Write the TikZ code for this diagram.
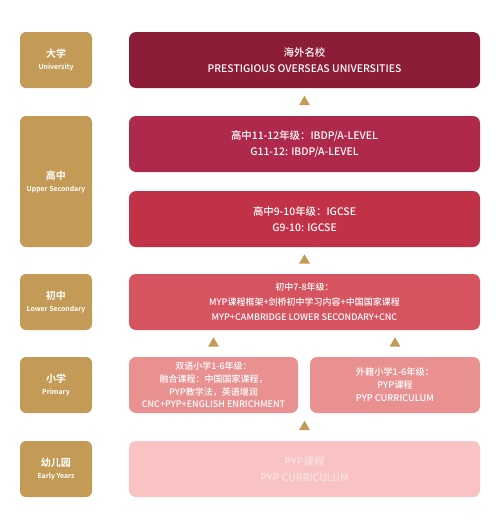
\documentclass[tikz,border=0pt]{standalone}
\usepackage{fontspec}
\newfontfamily\cjk{Noto Sans CJK SC Medium}[BoldFont={Noto Sans CJK SC Bold}]
\usetikzlibrary{calc,shapes.geometric}
\definecolor{gold}{HTML}{C39B56}
\definecolor{uniRed}{HTML}{8C1D36}
\definecolor{hiRed}{HTML}{AF2A4A}
\definecolor{midRed}{HTML}{C13148}
\definecolor{lowRed}{HTML}{D6545F}
\definecolor{priPink}{HTML}{E99090}
\definecolor{eyPink}{HTML}{F9C3C3}
\definecolor{eyText}{HTML}{FCE3E3}
\tikzset{
  level/.style={fill=gold, rounded corners=6pt, minimum width=72pt, text=white, align=center, inner sep=0pt},
  stage/.style={rounded corners=7pt, minimum height=56pt, text=white, align=center, inner sep=0pt,
    font=\cjk\fontsize{10.4}{15.5}\selectfont},
  tri/.style={regular polygon, regular polygon sides=3, fill=gold, minimum size=12.5pt, inner sep=0pt}
}
\begin{document}
\begin{tikzpicture}[x=1pt, y=-1pt, font=\cjk]
	\useasboundingbox (0,0) rectangle (500,531);
	% stage names on the left
	\foreach \n/\y/\h/\zh/\en in {uni/60/56/大学/University, hi/181.5/131/高中/Upper Secondary,
		low/302/56/初中/Lower Secondary, pri/385/56/小学/Primary, ey/469/56/幼儿园/Early Years}
	\node[level, minimum height=\h pt] (\n) at (56,\y)
		{{\bfseries\fontsize{10}{13.5}\selectfont\zh}\\{\bfseries\fontsize{6.9}{8}\selectfont\en}};
	% curriculum boxes
	\node[stage, fill=uniRed, minimum width=351pt] (top) at (304.5,60) {海外名校\\PRESTIGIOUS OVERSEAS UNIVERSITIES};
	\node[stage, fill=hiRed, minimum width=351pt] (g1112) at (304.5,144) {高中11-12年级：IBDP/A-LEVEL\\G11-12: IBDP/A-LEVEL};
	\node[stage, fill=midRed, minimum width=351pt] (g910) at (304.5,219) {高中9-10年级：IGCSE\\G9-10: IGCSE};
	\node[stage, fill=lowRed, minimum width=351pt, font=\cjk\fontsize{9}{15}\selectfont] (g78) at (304.5,302)
		{初中7-8年级：\\MYP课程框架+剑桥初中学习内容+中国国家课程\\MYP+CAMBRIDGE LOWER SECONDARY+CNC};
	\node[stage, fill=priPink, minimum width=169pt, font=\cjk\fontsize{9}{12.8}\selectfont] (bil) at (213.5,385)
		{双语小学1-6年级：\\融合课程：中国国家课程，\\PYP教学法，英语增润\\CNC+PYP+ENGLISH ENRICHMENT};
	\node[stage, fill=priPink, minimum width=170pt, font=\cjk\fontsize{9.2}{13}\selectfont] (intl) at (395,385)
		{外籍小学1-6年级：\\PYP课程\\PYP CURRICULUM};
	\node[stage, fill=eyPink, text=eyText, minimum width=351pt] (early) at (304.5,469) {PYP课程\\PYP CURRICULUM};
	% markers between the stages
	\foreach \a/\b in {g1112/top, g78/g910, bil/g78, intl/g78, early/bil}
	\node[tri] at ($(\a.north)!0.5!(\a.north |- \b.south)$) {};
\end{tikzpicture}
\end{document}
